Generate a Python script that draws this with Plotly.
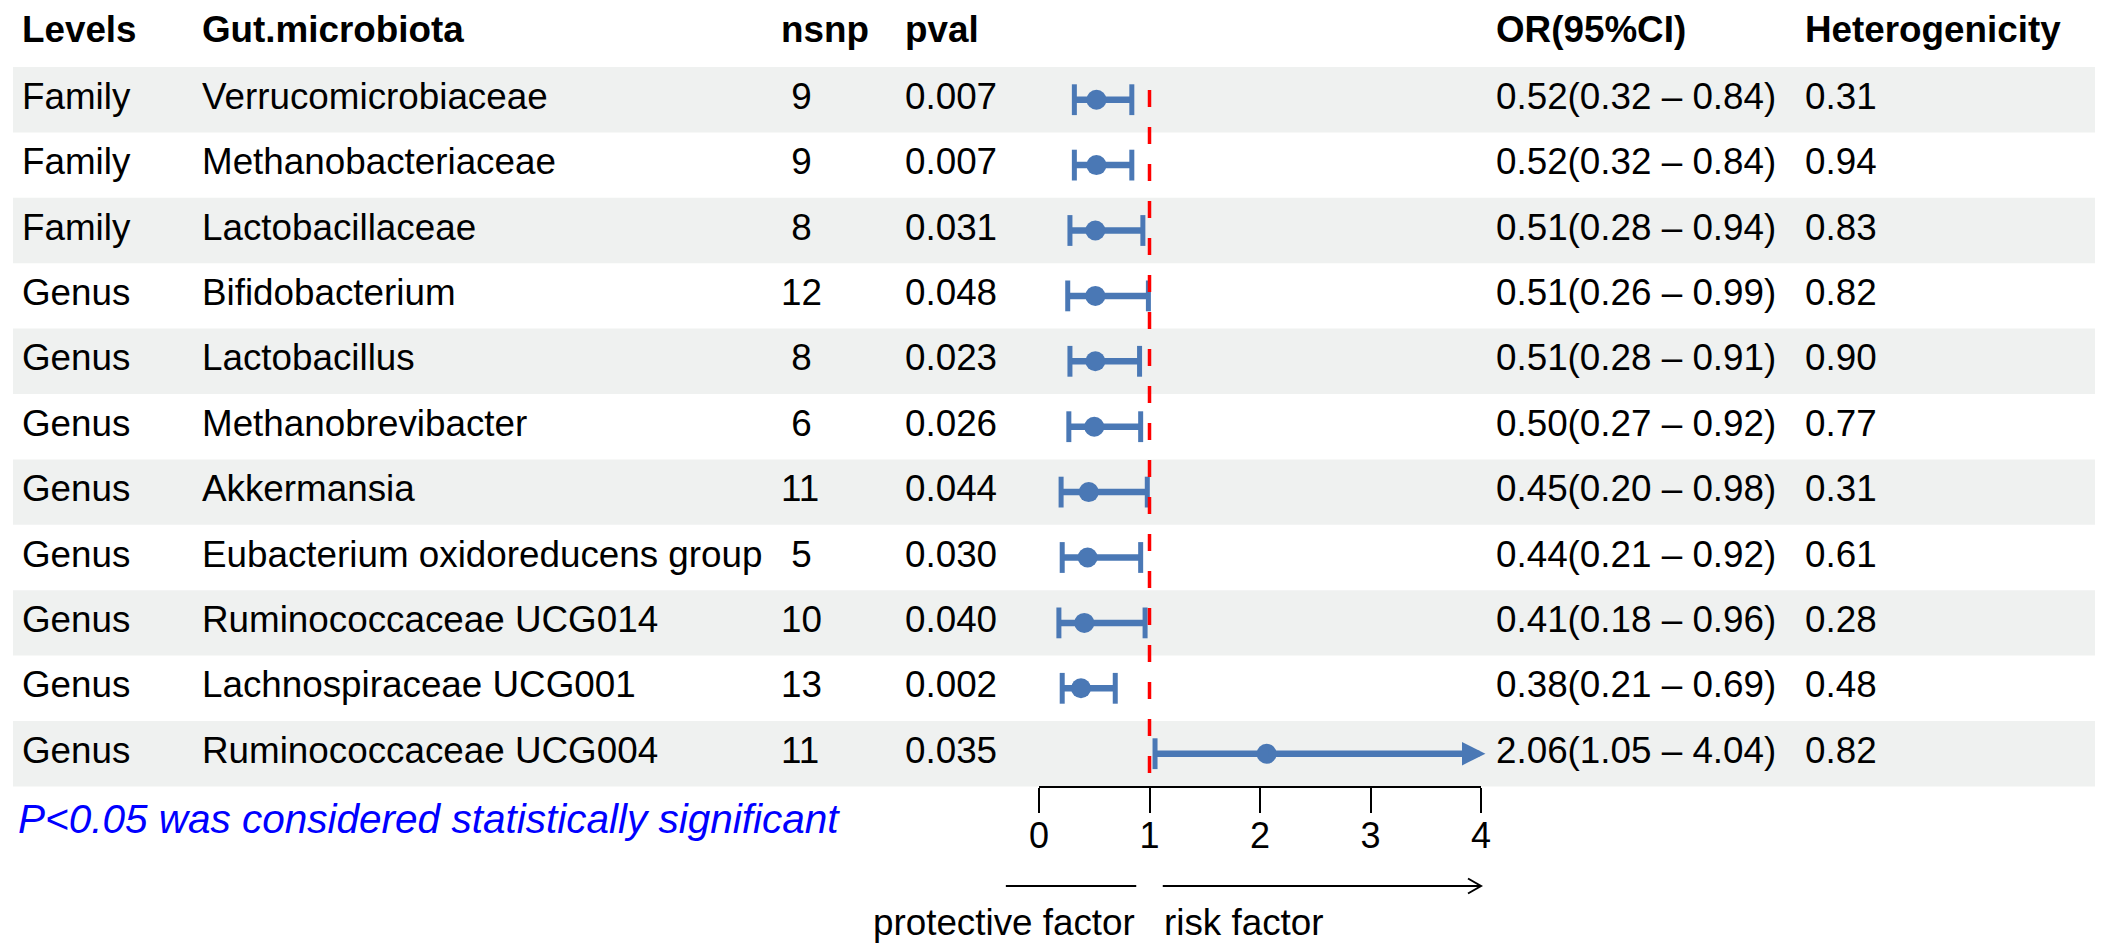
import plotly.graph_objects as go

# ---------------- data ----------------
levels = ["Family", "Family", "Family", "Genus", "Genus", "Genus", "Genus",
          "Genus", "Genus", "Genus", "Genus"]
microbiota = ["Verrucomicrobiaceae", "Methanobacteriaceae", "Lactobacillaceae",
              "Bifidobacterium", "Lactobacillus", "Methanobrevibacter",
              "Akkermansia", "Eubacterium oxidoreducens group",
              "Ruminococcaceae UCG014", "Lachnospiraceae UCG001",
              "Ruminococcaceae UCG004"]
nsnp = [9, 9, 8, 12, 8, 6, 11, 5, 10, 13, 11]
pval = [0.007, 0.007, 0.031, 0.048, 0.023, 0.026, 0.044, 0.030, 0.040, 0.002, 0.035]
or_est = [0.52, 0.52, 0.51, 0.51, 0.51, 0.50, 0.45, 0.44, 0.41, 0.38, 2.06]
ci_low = [0.32, 0.32, 0.28, 0.26, 0.28, 0.27, 0.20, 0.21, 0.18, 0.21, 1.05]
ci_high = [0.84, 0.84, 0.94, 0.99, 0.91, 0.92, 0.98, 0.92, 0.96, 0.69, 4.04]
heterogeneity = [0.31, 0.94, 0.83, 0.82, 0.90, 0.77, 0.31, 0.61, 0.28, 0.48, 0.82]
headers = ["Levels", "Gut.microbiota", "nsnp", "pval", "OR(95%CI)", "Heterogenicity"]
x_ticks = [0, 1, 2, 3, 4]
ref_value = 1
footnote = "P<0.05 was considered statistically significant"
left_label = "protective factor"
right_label = "risk factor"

# ---------------- layout constants ----------------
W, H = 2103, 947
FONT = "Liberation Sans, Arial, Helvetica, sans-serif"
FS = 36.8
BLUE = "#4A78B5"
BAND = "#EFF1F0"
ROW0_PX = 26.3      # pixel centre of header row (row index 0)
ROW_H = 65.4        # pixel height of a row
AXIS_PX = 779       # pixel y of forest x-axis
X0_PX = 1031        # pixel x of value 0 on forest axis
UNIT = 110.5        # pixels per unit on forest axis
XMIN, XMAX = -0.3, 4.3
COL_X = [14, 194, 773, 897, 1488, 1797]


def row_of(py):
    return (py - ROW0_PX) / ROW_H


def ypaper(py):
    return (H - py) / H


n = len(levels)
rows = list(range(1, n + 1))

fig = go.Figure()

# ---------------- table text ----------------
col_texts = [
    levels,
    microbiota,
    [f"{v:>2}".replace(" ", "\u00a0") for v in nsnp],
    [f"{p:.3f}" for p in pval],
    [f"{o:.2f}({l:.2f} \u2013 {h:.2f})" for o, l, h in zip(or_est, ci_low, ci_high)],
    [f"{h:.2f}" for h in heterogeneity],
]
for cx, texts in zip(COL_X, col_texts):
    fig.add_trace(go.Scatter(
        x=[cx] * n, y=rows, text=texts, mode="text",
        textposition="middle right",
        textfont=dict(family=FONT, size=FS, color="black"),
        hoverinfo="skip", showlegend=False, xaxis="x", yaxis="y"))

fig.add_trace(go.Scatter(
    x=COL_X, y=[row_of(25)] * len(headers), text=headers, mode="text",
    textposition="middle right",
    textfont=dict(family=FONT, size=FS, color="black", weight="bold"),
    hoverinfo="skip", showlegend=False, xaxis="x", yaxis="y"))

# ---------------- forest plot ----------------
seg_x, seg_y = [], []
cap_x, cap_y = [], []
arrow_rows = []
for r, o, lo, hi in zip(rows, or_est, ci_low, ci_high):
    cap_x.append(lo)
    cap_y.append(r)
    if hi > x_ticks[-1]:
        seg_x += [lo, o, None]
        arrow_rows.append((r, o, hi))
    else:
        seg_x += [lo, hi, None]
        cap_x.append(hi)
        cap_y.append(r)
    seg_y += [r, r, None]

fig.add_trace(go.Scatter(
    x=seg_x, y=seg_y, mode="lines", line=dict(color=BLUE, width=6.5),
    hoverinfo="skip", showlegend=False, xaxis="x2", yaxis="y"))
fig.add_trace(go.Scatter(
    x=cap_x, y=cap_y, mode="markers",
    marker=dict(symbol="line-ns", size=22, color=BLUE,
                line=dict(color=BLUE, width=5)),
    hoverinfo="skip", showlegend=False, cliponaxis=False,
    xaxis="x2", yaxis="y"))
fig.add_trace(go.Scatter(
    x=or_est, y=rows, mode="markers",
    marker=dict(symbol="circle", size=20, color=BLUE, line=dict(width=0)),
    hoverinfo="skip", showlegend=False, cliponaxis=False,
    xaxis="x2", yaxis="y"))

annotations = []
for r, o, hi in arrow_rows:
    annotations.append(dict(
        x=hi, y=r, xref="x2", yref="y", ax=o, ay=r, axref="x2", ayref="y",
        text="", showarrow=True, arrowhead=2, arrowsize=0.72, arrowwidth=6.5,
        arrowcolor=BLUE, standoff=0, startstandoff=0))

shapes = []
# striped row backgrounds
for r in rows:
    if r % 2 == 1:
        shapes.append(dict(type="rect", xref="paper", yref="y",
                           x0=5 / W, x1=2098 / W, y0=r - 0.5, y1=r + 0.5,
                           fillcolor=BAND, line=dict(width=0), layer="below"))
# reference line
shapes.append(dict(type="line", xref="x2", yref="y",
                   x0=ref_value, x1=ref_value, y0=row_of(82), y1=row_of(772),
                   line=dict(color="#FF0000", width=3.5, dash="17px,20px")))
# axis line
shapes.append(dict(type="line", xref="x2", yref="paper",
                   x0=x_ticks[0], x1=x_ticks[-1],
                   y0=ypaper(AXIS_PX), y1=ypaper(AXIS_PX),
                   line=dict(color="black", width=2)))
# direction arrows
ay_p = ypaper(878)
hl = 13 / UNIT
hh = 7.5 / H
l_tail, l_tip = ref_value - 0.12, -1.5
r_tail, r_tip = ref_value + 0.12, x_ticks[-1]
shapes.append(dict(type="path", xref="x2", yref="paper",
                   path=(f"M{l_tail},{ay_p} L{l_tip},{ay_p} "
                         f"M{l_tip + hl},{ay_p + hh} L{l_tip},{ay_p} L{l_tip + hl},{ay_p - hh}"),
                   line=dict(color="black", width=2)))
shapes.append(dict(type="path", xref="x2", yref="paper",
                   path=(f"M{r_tail},{ay_p} L{r_tip},{ay_p} "
                         f"M{r_tip - hl},{ay_p + hh} L{r_tip},{ay_p} L{r_tip - hl},{ay_p - hh}"),
                   line=dict(color="black", width=2)))

annotations.append(dict(x=l_tail, y=ypaper(914), xref="x2", yref="paper",
                        text=left_label, showarrow=False, xanchor="right",
                        yanchor="middle", borderpad=0,
                        font=dict(family=FONT, size=FS, color="black")))
annotations.append(dict(x=r_tail, y=ypaper(914), xref="x2", yref="paper",
                        text=right_label, showarrow=False, xanchor="left",
                        yanchor="middle", borderpad=0,
                        font=dict(family=FONT, size=FS, color="black")))
annotations.append(dict(x=9 / W, y=ypaper(811), xref="paper", yref="paper",
                        text=footnote, showarrow=False, xanchor="left",
                        yanchor="middle", borderpad=0,
                        font=dict(family=FONT, size=40.5, color="#0000FF",
                                  style="italic")))

fig.update_layout(
    width=W, height=H,
    margin=dict(l=0, r=0, t=0, b=0),
    paper_bgcolor="white", plot_bgcolor="rgba(0,0,0,0)",
    showlegend=False,
    xaxis=dict(domain=[0, 1], range=[0, W], visible=False, fixedrange=True),
    xaxis2=dict(domain=[(X0_PX + XMIN * UNIT) / W, (X0_PX + XMAX * UNIT) / W],
                range=[XMIN, XMAX], anchor="y",
                tickvals=x_ticks, ticktext=[str(t) for t in x_ticks],
                ticks="outside", ticklen=25, tickwidth=2, tickcolor="black",
                ticklabelstandoff=-8,
                showline=False, showgrid=False, zeroline=False,
                tickfont=dict(family=FONT, size=36, color="black"),
                fixedrange=True),
    yaxis=dict(domain=[ypaper(AXIS_PX), 1],
               range=[row_of(AXIS_PX), row_of(0)],
               visible=False, fixedrange=True),
    shapes=shapes,
    annotations=annotations,
)

fig.write_html("out.html")
